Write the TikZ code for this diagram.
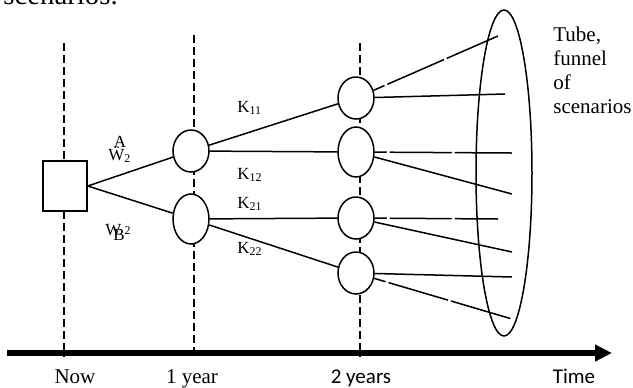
\documentclass[tikz,border=0pt]{standalone}
\usepackage{fontspec}
\setmainfont{Liberation Serif}
\newfontfamily\calibri{Carlito}
\usetikzlibrary{shapes.geometric,arrows.meta}

\begin{document}
\begin{tikzpicture}[x=0.5pt, y=-0.5pt,
    every node/.style={inner sep=0pt, font=\fontsize{8.5}{10}\selectfont},
    chance/.style={draw, ellipse, fill=white, line width=0.75pt, minimum width=18pt, minimum height=21pt},
    branch/.style={line width=0.75pt},
    gapped/.style={branch, dash pattern=on 31pt off 1.5pt, dash phase=25pt},
    yearline/.style={line width=0.7pt, dash pattern=on 4pt off 2pt},
    axislabel/.style={anchor=base, font=\fontsize{10.5}{12}\selectfont}]
        \useasboundingbox (0,0) rectangle (633,387);

        % cut-off line of the text above
        \node[anchor=base west, font=\fontsize{14.4}{16}\selectfont] (captxt) at (3,4) {scenarios.};

        % time markers
        \draw[yearline] (64,43) -- (64,357);
        \draw[yearline] (194,35) -- (194,357);
        \draw[yearline] (360,43) -- (360,357);

        % time axis
        \coordinate (tstart) at (7,353);
        \coordinate (tend) at (612,353);
        \draw[line width=3pt, -{Triangle[length=8.5pt, width=8pt]}] (tstart) -- (tend);

        % decision now
        \node[draw, fill=white, line width=0.75pt, minimum width=22pt, minimum height=25pt] (now) at (65,186) {};

        % chance nodes after 1 year
        \node[chance] (y1a) at (191,151) {};
        \node[chance, minimum height=25pt] (y1b) at (191,219) {};

        % chance nodes after 2 years
        \node[chance] (y2a) at (356,98) {};
        \node[chance, minimum height=25pt] (y2b) at (356,152) {};
        \node[chance] (y2c) at (356,218) {};
        \node[chance] (y2d) at (356,273) {};

        % tube of scenarios
        \node[draw, ellipse, line width=0.75pt, minimum width=28pt, minimum height=163pt] (tube) at (504,173) {};
        \node[anchor=north west, align=left, font=\fontsize{10.5}{12}\selectfont] (tubetxt) at (553,27) {Tube,\\funnel\\of\\scenarios};

        % branches
        \draw[branch] (now.east) -- (y1a);
        \draw[branch] (now.east) -- (y1b);
        \draw[branch] (y1a) -- (y2a);
        \draw[branch] (y1a) -- (y2b);
        \draw[branch] (y1b) -- (y2c);
        \draw[branch] (y1b) -- (y2d);

        % scenario ends
        \coordinate (s1) at (498,36);
        \coordinate (s2) at (505,94);
        \coordinate (s3) at (512,153);
        \coordinate (s4) at (512,194);
        \coordinate (s5) at (498,219);
        \coordinate (s6) at (512,252);
        \coordinate (s7) at (512,277);
        \coordinate (s8) at (512,319);
        \draw[gapped] (y2a) -- (s1);
        \draw[branch] (y2a) -- (s2);
        \draw[gapped] (y2b) -- (s3);
        \draw[branch] (y2b) -- (s4);
        \draw[gapped] (y2c) -- (s5);
        \draw[branch] (y2c) -- (s6);
        \draw[branch] (y2d) -- (s7);
        \draw[gapped] (y2d) -- (s8);

        % branch labels
        \node (lblA) at (120,142) {A};
        \node[anchor=base west] (lblWa) at (108,160) {Ẅ\textsubscript{2}};
        \node[anchor=base west] (lblW) at (105,235) {W};
        \node[anchor=base west] (lblB) at (113,240) {B\textsuperscript{2}};
        \node[anchor=base west] (k11) at (237,112) {K\textsubscript{11}};
        \node[anchor=base west] (k12) at (237,179) {K\textsubscript{12}};
        \node[anchor=base west] (k21) at (237,208) {K\textsubscript{21}};
        \node[anchor=base west] (k22) at (237,253) {K\textsubscript{22}};

        % axis labels
        \node[axislabel] (lnow) at (75,383) {Now};
        \node[axislabel] (lyear1) at (192,383) {1 year};
        \node[axislabel, font=\calibri\fontsize{10.5}{12}\selectfont] (lyear2) at (361,383) {2 years};
        \node[axislabel, font=\calibri\fontsize{10.5}{12}\selectfont] (ltime) at (574,383) {Time};
    \end{tikzpicture}
\end{document}
